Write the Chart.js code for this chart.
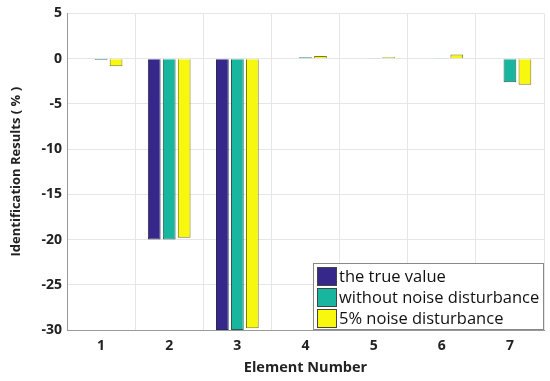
<!DOCTYPE html>
<html>
<head>
<meta charset="utf-8">
<script src="https://cdn.jsdelivr.net/npm/chart.js@4/dist/chart.umd.min.js"></script>
<style>
  html, body { margin: 0; padding: 0; background: #fff; }
  #wrap { width: 550px; height: 381px; }
</style>
</head>
<body>
<div id="wrap"><canvas id="myChart" width="550" height="381"></canvas></div>
<script>
// data block
var elements = ['1', '2', '3', '4', '5', '6', '7'];
var trueValue = [0, -20, -30, 0, 0, 0, 0];
var withoutNoise = [-0.15, -20, -30, 0.15, 0.08, 0.08, -2.6];
var noise5 = [-0.85, -19.8, -29.8, 0.3, 0.15, 0.45, -2.9];
var seriesNames = ['the true value', 'without noise disturbance', '5% noise disturbance'];

var fontFam = '"Open Sans", "Noto Sans", sans-serif';

// legend drawn inside the plot, matlab style
var boxLegend = {
    id: 'boxLegend',
    afterDraw: function (chart) {
        var ctx = chart.ctx;
        var area = chart.chartArea;
        var w = 231, h = 67;
        var x = area.right - w, y = area.bottom - h;
        ctx.save();
        ctx.fillStyle = '#fff';
        ctx.fillRect(x, y, w, h);
        ctx.strokeStyle = '#888';
        ctx.lineWidth = 1;
        ctx.strokeRect(x + 0.5, y + 0.5, w - 1, h - 1);
        ctx.font = '16.5px ' + fontFam;
        ctx.textBaseline = 'middle';
        chart.data.datasets.forEach(function (ds, i) {
            var yy = y + 4 + i * 21;
            ctx.fillStyle = ds.backgroundColor;
            ctx.fillRect(x + 4, yy, 20, 19);
            ctx.strokeStyle = '#444';
            ctx.strokeRect(x + 4.5, yy + 0.5, 19, 18);
            ctx.fillStyle = '#111';
            ctx.fillText(ds.label, x + 26, yy + 10);
        });
        ctx.restore();
    }
};

var myCrt = document.getElementById('myChart');
var myBarChart = new Chart(myCrt, {
    type: 'bar',
    data: {
        labels: elements,
        datasets: [{
            label: seriesNames[0],
            data: trueValue,
            backgroundColor: '#35288a',
            borderColor: '#2a2a55',
            borderWidth: 1
        }, {
            label: seriesNames[1],
            data: withoutNoise,
            backgroundColor: '#18b69f',
            borderColor: '#2a5a52',
            borderWidth: 1
        }, {
            label: seriesNames[2],
            data: noise5,
            backgroundColor: '#f8f80e',
            borderColor: '#7a7a20',
            borderWidth: 1
        }]
    },
    options: {
        responsive: false,
        animation: false,
        categoryPercentage: 0.66,
        barPercentage: 0.85,
        layout: { padding: { top: 0, right: 6, left: 0, bottom: 0 } },
        plugins: {
            legend: { display: false },
            tooltip: { enabled: false }
        },
        scales: {
            x: {
                grid: { color: '#e6e6e6', drawTicks: false },
                border: { color: '#999' },
                ticks: { color: '#222', padding: 8, font: { family: fontFam, size: 14, weight: 'bold' } },
                title: { display: true, text: 'Element Number', color: '#222', padding: { top: 3 }, font: { family: fontFam, size: 14.5, weight: 'bold' } },
                afterFit: function (s) { s.height = 51; }
            },
            y: {
                min: -30,
                max: 5,
                ticks: { stepSize: 5, color: '#222', padding: 5, font: { family: fontFam, size: 14, weight: 'bold' } },
                grid: { color: '#e6e6e6', drawTicks: false },
                border: { color: '#999' },
                title: { display: true, text: 'Identification Results ( % )', color: '#222', padding: { top: 8 }, font: { family: fontFam, size: 13, weight: 'bold' } },
                afterFit: function (s) { s.width = 67; }
            }
        }
    },
    plugins: [boxLegend]
});
</script>
</body>
</html>
